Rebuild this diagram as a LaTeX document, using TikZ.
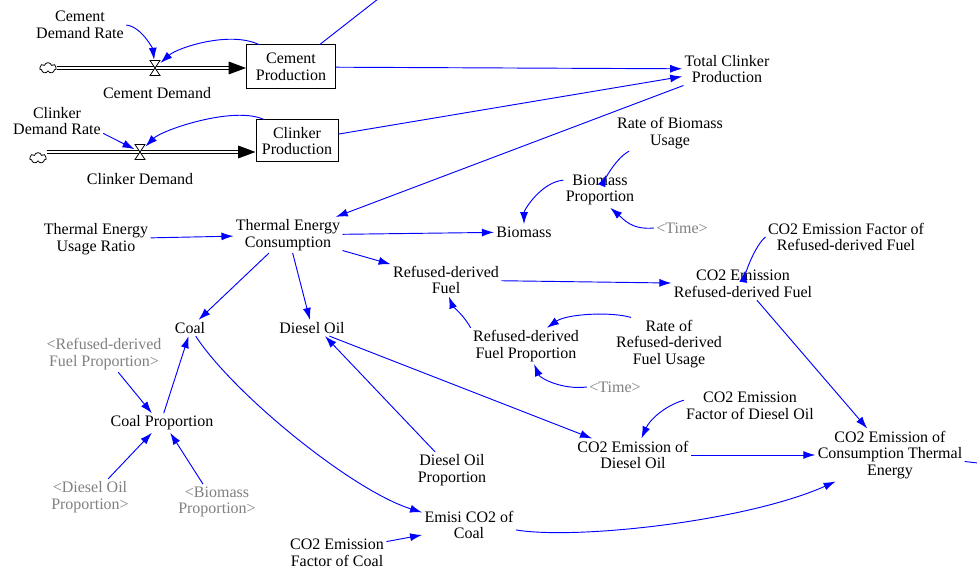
\documentclass[tikz,border=0pt]{standalone}
\usepackage{fontspec}
\setmainfont{Liberation Serif}
\usetikzlibrary{arrows.meta,shapes.symbols}

\tikzset{every picture/.style={line width=0.75pt}}
\definecolor{linkblue}{RGB}{0,0,255}
\definecolor{shadowgray}{RGB}{128,128,128}
\tikzset{
  var/.style={align=center, inner sep=1.5pt, font=\fontsize{12}{12.5}\selectfont},
  shadowvar/.style={var, text=shadowgray},
  stock/.style={var, draw, line width=0.75pt},
  valvebox/.style={inner sep=0pt, minimum width=7.5pt, minimum height=11.5pt},
  puff/.style={cloud, cloud puffs=7, draw, line width=0.6pt, inner sep=0pt, minimum width=12.5pt, minimum height=8pt, fill=white},
  link/.style={draw=linkblue, line width=0.7pt, -{Latex[length=9pt,width=6pt]}},
  linkend/.style={draw=linkblue, line width=0.7pt},
  pipe/.style={double, double distance=1.9pt, line width=0.7pt},
  flowhead/.style={line width=0.7pt, -{Triangle[length=13pt,width=9.5pt]}},
  valvepic/.pic={\draw[line width=0.6pt, fill=white] (-5,-7.5) -- (5,-7.5) -- (-5,7.5) -- (5,7.5) -- cycle;}
}

\begin{document}
\begin{tikzpicture}[x=0.75pt,y=0.75pt,yscale=-1,xscale=1]
                \useasboundingbox (0,0) rectangle (977,573);

                % Stocks and Clouds
                \draw (291,67) node [stock, minimum width=66.75pt, minimum height=33pt] (cemprod) {Cement\\Production};
                \draw (297,141) node [stock, minimum width=61.5pt, minimum height=31.5pt] (clkprod) {Clinker\\Production};
                \draw (48,68) node [puff] (cemcloud) {};
                \draw (38,158) node [puff] (clkcloud) {};
                \draw (155,68) node [valvebox] (cemvalve) {};
                \draw (140,152) node [valvebox] (clkvalve) {};
                \coordinate (cemin) at (cemprod.west |- cemvalve);
                \coordinate (clkin) at (clkprod.west |- clkvalve);
                \coordinate (cemout) at (378,-1);
                \coordinate (totout) at (978,463);

                % Text Node
                \draw (80,25) node [var] (cemrate) {Cement\\Demand Rate};
                % Text Node
                \draw (157,93) node [var] (cemdem) {Cement Demand};
                % Text Node
                \draw (727,69) node [var] (totclk) {Total Clinker\\Production};
                % Text Node
                \draw (57,121) node [var] (clkrate) {Clinker\\Demand Rate};
                % Text Node
                \draw (140,179) node [var] (clkdem) {Clinker Demand};
                % Text Node
                \draw (670,133) node [var] (ratebio) {Rate of Biomass\\Usage};
                % Text Node
                \draw (600,190) node [var] (bioprop) {Biomass\\Proportion};
                % Text Node
                \draw (682,228) node [shadowvar] (timea) {<Time>};
                % Text Node
                \draw (524,232) node [var] (biomass) {Biomass};
                % Text Node
                \draw (96,239) node [var] (teur) {Thermal Energy\\Usage Ratio};
                % Text Node
                \draw (288,235) node [var] (tec) {Thermal Energy\\Consumption};
                % Text Node
                \draw (846,237) node [var] (efrdf) {CO2 Emission Factor of\\Refused-derived Fuel};
                % Text Node
                \draw (446,280) node [var] (rdf) {Refused-derived\\Fuel};
                % Text Node
                \draw (743,284) node [var] (co2rdf) {CO2 Emission\\Refused-derived Fuel};
                % Text Node
                \draw (190,328) node [var] (coal) {Coal};
                % Text Node
                \draw (312,328) node [var] (diesel) {Diesel Oil};
                % Text Node
                \draw (526,346) node [var] (rdfprop) {Refused-derived\\Fuel Proportion};
                % Text Node
                \draw (669,344) node [var] (raterdf) {Rate of\\Refused-derived\\Fuel Usage};
                % Text Node
                \draw (104,354) node [shadowvar] (shrdf) {<Refused-derived\\Fuel Proportion>};
                % Text Node
                \draw (615,387) node [shadowvar] (timeb) {<Time>};
                % Text Node
                \draw (750,406) node [var] (efdiesel) {CO2 Emission\\Factor of Diesel Oil};
                % Text Node
                \draw (162,423) node [var] (coalprop) {Coal Proportion};
                % Text Node
                \draw (633,455) node [var] (co2diesel) {CO2 Emission of\\Diesel Oil};
                % Text Node
                \draw (890,455) node [var] (co2total) {CO2 Emission of\\Consumption Thermal\\Energy};
                % Text Node
                \draw (452,470) node [var] (dieselprop) {Diesel Oil\\Proportion};
                % Text Node
                \draw (90,497) node [shadowvar] (shdiesel) {<Diesel Oil\\Proportion>};
                % Text Node
                \draw (217,502) node [shadowvar] (shbio) {<Biomass\\Proportion>};
                % Text Node
                \draw (469,525) node [var] (emcoal) {Emisi CO2 of\\Coal};
                % Text Node
                \draw (337,553) node [var] (efcoal) {CO2 Emission\\Factor of Coal};

                %Flow Pipes
                \draw [pipe] (cemcloud.east |- cemvalve) -- ([xshift=-12.5pt]cemin);
                \draw [flowhead] ([xshift=-13pt]cemin) -- (cemin);
                \draw [pipe] (clkcloud.east |- clkvalve) -- ([xshift=-12.5pt]clkin);
                \draw [flowhead] ([xshift=-13pt]clkin) -- (clkin);
                \pic at (cemvalve) {valvepic};
                \pic at (clkvalve) {valvepic};

                %Curve Lines
                \draw [link] (cemrate.east) .. controls +(16,2) and +(-2,-18) .. (cemvalve);
                \draw [link] (cemprod.145) .. controls +(-30,-14) and +(22,-20) .. (cemvalve);
                \draw [link] (clkprod.147) .. controls +(-30,-14) and +(22,-22) .. (clkvalve);
                %Straight Lines
                \draw [link] (clkrate.-15) -- (clkvalve);
                \draw [linkend] (cemprod.38) -- (cemout);
                \draw [link] (cemprod) -- (totclk);
                \draw [link] (clkprod) -- (totclk);
                \draw [link] (totclk) -- (tec);
                \draw [link] (teur) -- (tec);
                \draw [link] (tec) -- (biomass);
                \draw [link] (tec) -- (rdf);
                \draw [link] (tec) -- (coal);
                \draw [link] (tec) -- (diesel);

                %Curve Lines
                \draw [link, shorten >=2pt] (ratebio.204) .. controls +(-12,6) and +(5,-12) .. (bioprop);
                \draw [link] (bioprop.165) .. controls +(-22,2) and +(0,-22) .. (biomass);
                \draw [link] (timea.west) .. controls +(-22,2) and +(14,12) .. (bioprop.-60);
                \draw [link, shorten >=2pt] (efrdf.west) .. controls +(-10,8) and +(2,-12) .. (co2rdf);
                \draw [link] (rdfprop.north west) .. controls +(-5,-10) and +(3,8) .. (rdf.-80);
                \draw [link] (raterdf.145) .. controls +(-20,-6) and +(20,-14) .. (rdfprop.41);
                \draw [link] (timeb.west) .. controls +(-25,3) and +(6,14) .. (rdfprop.-66);

                %Straight Lines
                \draw [link] (rdf) -- (co2rdf);
                \draw [link] (co2rdf) -- (co2total);
                \draw [link] (shrdf.-52) -- (coalprop.136);
                \draw [link] (coalprop.80) -- (coal.-100);
                \draw [link] (shdiesel.45) -- (coalprop.-136);
                \draw [link] (shbio.128) -- (coalprop.-50);
                \draw [link] (dieselprop.133) -- (diesel.-32);
                \draw [link] (diesel.-25) -- (co2diesel.158);
                \draw [link] (co2diesel) -- (co2total);
                \draw [link] (efcoal.13) -- (emcoal.192);
                \draw [linkend] (co2total.-5) -- (totout);

                %Curve Lines
                \draw [link] (coal.-55) .. controls +(38,58) and +(-70,-22) .. (emcoal.165);
                \draw [link] (efdiesel.175) .. controls +(-20,6) and +(8,-18) .. (co2diesel.63);
                \draw [link] (emcoal.-6) .. controls +(60,10) and +(-90,40) .. (co2total.206);
            \end{tikzpicture}
\end{document}
